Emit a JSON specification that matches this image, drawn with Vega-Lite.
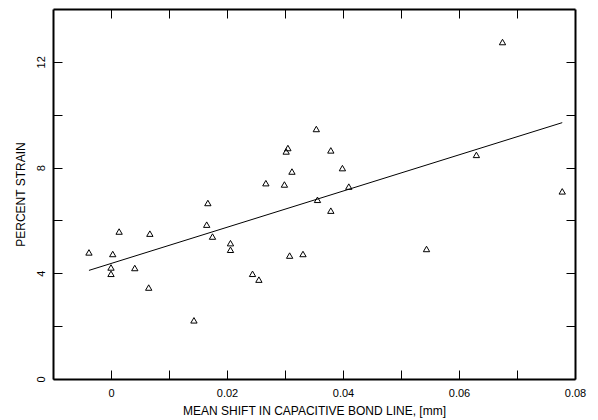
{
  "$schema": "https://vega.github.io/schema/vega-lite/v6.json",
  "autosize": {"type": "none"},
  "width": 522,
  "height": 370,
  "padding": {"left": 53, "top": 9, "right": 23, "bottom": 41},
  "background": "white",
  "config": {
    "view": {"stroke": null},
    "font": "Liberation Sans",
    "axis": {
      "domainColor": "black",
      "domainWidth": 2,
      "tickColor": "black",
      "tickWidth": 1,
      "tickSize": -9,
      "grid": false,
      "labelColor": "black",
      "titleColor": "black",
      "labelFont": "Liberation Sans",
      "titleFont": "Liberation Sans",
      "labelFontSize": 11,
      "titleFontSize": 12,
      "titleFontWeight": "normal"
    }
  },
  "datasets": {
    "pts": [
      {"shift": -0.0038, "strain": 4.79},
      {"shift": 0.0003, "strain": 4.73},
      {"shift": 0.0, "strain": 4.22},
      {"shift": 0.0, "strain": 3.98},
      {"shift": 0.0014, "strain": 5.58},
      {"shift": 0.0041, "strain": 4.2},
      {"shift": 0.0067, "strain": 5.5},
      {"shift": 0.0065, "strain": 3.46},
      {"shift": 0.0143, "strain": 2.22},
      {"shift": 0.0167, "strain": 6.66},
      {"shift": 0.0165, "strain": 5.84},
      {"shift": 0.0175, "strain": 5.39},
      {"shift": 0.0206, "strain": 5.14},
      {"shift": 0.0206, "strain": 4.89},
      {"shift": 0.0244, "strain": 3.98},
      {"shift": 0.0255, "strain": 3.76},
      {"shift": 0.0354, "strain": 9.46},
      {"shift": 0.0305, "strain": 8.74},
      {"shift": 0.0302, "strain": 8.61},
      {"shift": 0.0379, "strain": 8.65},
      {"shift": 0.0399, "strain": 7.98},
      {"shift": 0.0312, "strain": 7.85},
      {"shift": 0.0267, "strain": 7.41},
      {"shift": 0.0299, "strain": 7.36},
      {"shift": 0.041, "strain": 7.28},
      {"shift": 0.0356, "strain": 6.78},
      {"shift": 0.0379, "strain": 6.37},
      {"shift": 0.0308, "strain": 4.67},
      {"shift": 0.0331, "strain": 4.73},
      {"shift": 0.0544, "strain": 4.92},
      {"shift": 0.063, "strain": 8.48},
      {"shift": 0.0675, "strain": 12.75},
      {"shift": 0.0778, "strain": 7.1}
    ],
    "fit": [
      {"shift": -0.0038, "strain": 4.11},
      {"shift": 0.0778, "strain": 9.7}
    ]
  },
  "layer": [
    {
      "data": {"name": "pts"},
      "mark": {"type": "point", "shape": "triangle-up", "filled": false, "stroke": "black", "strokeWidth": 1, "size": 40, "opacity": 1},
      "encoding": {
        "x": {
          "field": "shift", "type": "quantitative",
          "scale": {"domain": [-0.01, 0.08], "nice": false, "zero": false},
          "axis": {
            "orient": "bottom",
            "values": [0, 0.01, 0.02, 0.03, 0.04, 0.05, 0.06, 0.07, 0.08],
            "labelExpr": "abs(round(datum.value*100)) % 2 == 0 ? (datum.value == 0 ? '0' : format(datum.value, '.2f')) : ''",
            "labelPadding": 17,
            "labelFlush": false,
            "title": "MEAN SHIFT IN CAPACITIVE BOND LINE, [mm]",
            "titlePadding": 7
          }
        },
        "y": {
          "field": "strain", "type": "quantitative",
          "scale": {"domain": [0, 14], "nice": false},
          "axis": {
            "orient": "left",
            "values": [0, 2, 4, 6, 8, 10, 12],
            "labelExpr": "datum.value % 4 == 0 ? datum.label : ''",
            "labelAngle": -90,
            "labelAlign": "center",
            "labelBaseline": "bottom",
            "labelPadding": 16,
            "labelFlush": false,
            "title": "PERCENT STRAIN",
            "titlePadding": 8
          }
        }
      }
    },
    {
      "data": {"name": "fit"},
      "mark": {"type": "line", "color": "black", "strokeWidth": 1},
      "encoding": {
        "x": {
          "field": "shift", "type": "quantitative",
          "scale": {"domain": [-0.01, 0.08], "nice": false, "zero": false},
          "axis": {
            "orient": "top",
            "values": [0, 0.01, 0.02, 0.03, 0.04, 0.05, 0.06, 0.07],
            "labels": false,
            "title": null
          }
        },
        "y": {
          "field": "strain", "type": "quantitative",
          "scale": {"domain": [0, 14], "nice": false},
          "axis": {
            "orient": "right",
            "values": [2, 4, 6, 8, 10, 12],
            "labels": false,
            "title": null
          }
        }
      }
    }
  ],
  "resolve": {"axis": {"x": "independent", "y": "independent"}}
}
